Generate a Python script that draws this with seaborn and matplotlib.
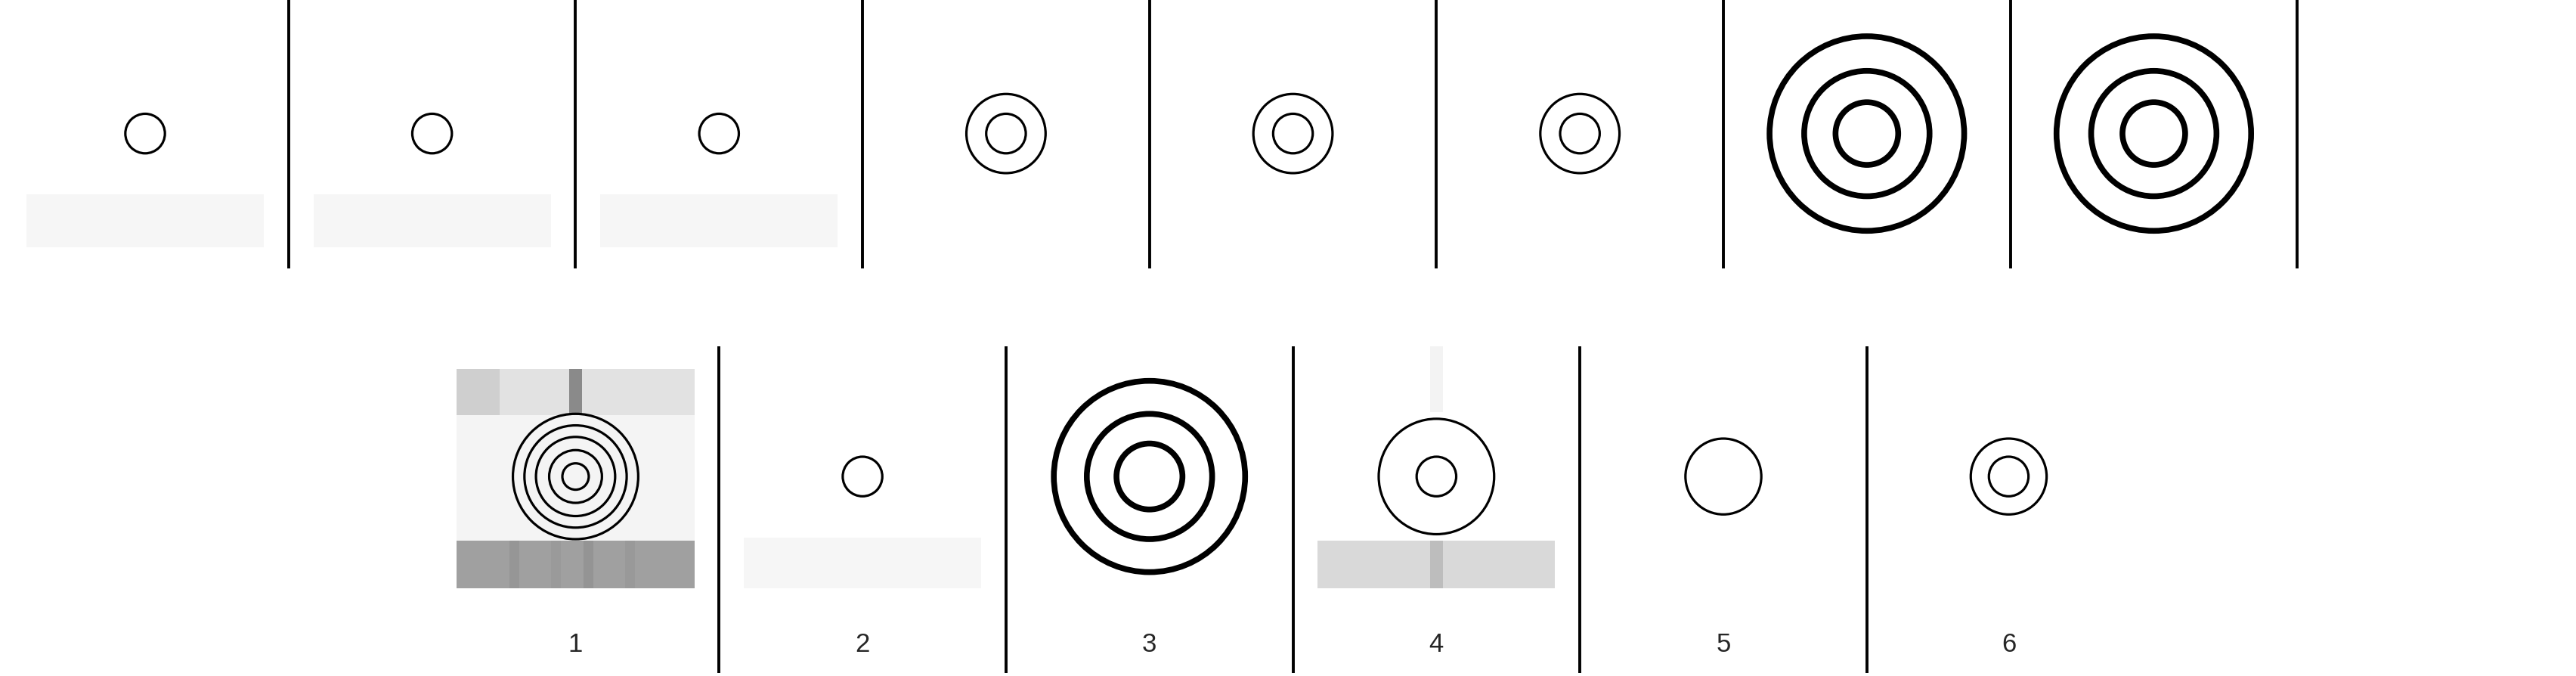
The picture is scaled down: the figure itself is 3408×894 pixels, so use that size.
import matplotlib
matplotlib.use("Agg")
import matplotlib.pyplot as plt
import matplotlib.patches as mpatches
import seaborn as sns

# panel contents: ring radii (in reference display px), thick flag, strip
top_centers = [88, 262, 436, 610, 784, 958, 1132, 1306]
top_radii = [[12], [12], [12], [12, 24], [12, 24], [12, 24],
             [19, 38, 59], [19, 38, 59]]
top_thick = [False] * 6 + [True] * 2
top_strip = [True, True, True, False, False, False, False, False]
top_seps = [175, 349, 523, 697, 871, 1045, 1219, 1393]

opt_labels = ["1", "2", "3", "4", "5", "6"]
opt_centers = [349, 523, 697, 871, 1045, 1218]
opt_radii = [[8, 16, 24, 31, 38], [12], [20, 38, 58], [12, 35], [23], [12, 23]]
opt_thick = [False, False, True, False, False, False]
opt_seps = [436, 610, 784, 958, 1132]

sns.set_style("white")
plt.rcParams["font.family"] = ["Liberation Sans", "DejaVu Sans"]

fig = plt.figure(figsize=(34.08, 8.94), dpi=100)
ax = fig.add_axes([0, 0, 1, 1])
ax.set_xlim(0, 1562)
ax.set_ylim(410, 0)
ax.axis("off")


def rect(x, y, w, h, c):
    ax.add_patch(mpatches.Rectangle((x, y), w, h, facecolor=c, edgecolor="none", zorder=1))


def rings(cx, cy, radii, thick):
    lw = 5.5 if thick else 2.3
    for r in radii:
        ax.add_patch(mpatches.Circle((cx, cy), r, fill=False, edgecolor="black", lw=lw, zorder=3))


# top row
for cx, radii, thick, strip in zip(top_centers, top_radii, top_thick, top_strip):
    if strip:
        rect(cx - 72, 118, 144, 32, "#f6f6f6")
    rings(cx, 81, radii, thick)
ax.vlines(top_seps, 0, 163, color="black", lw=2.8)

# option 1 background
cx = opt_centers[0]
rect(cx - 72, 224, 144, 28, "#e2e2e2")
rect(cx - 72, 224, 26, 28, "#cfcfcf")
rect(cx - 4, 224, 8, 28, "#8a8a8a")
rect(cx - 72, 252, 144, 76, "#f4f4f4")
rect(cx - 72, 328, 144, 29, "#a0a0a0")
for dx, c in [(-40, "#969696"), (-15, "#9a9a9a"), (5, "#949494"), (30, "#999999")]:
    rect(cx + dx, 328, 6, 29, c)
# option 2 strip
rect(opt_centers[1] - 72, 326, 144, 31, "#f6f6f6")
# option 4 strip
cx = opt_centers[3]
rect(cx - 72, 328, 144, 29, "#d9d9d9")
rect(cx - 4, 328, 8, 29, "#bdbdbd")
rect(cx - 4, 210, 8, 40, "#f3f3f3")

for cx, radii, thick, lab in zip(opt_centers, opt_radii, opt_thick, opt_labels):
    rings(cx, 289, radii, thick)
    ax.text(cx, 391, lab, ha="center", va="center", fontsize=25)
ax.vlines(opt_seps, 210, 408, color="black", lw=2.8)

fig.savefig("out.png", dpi=100)
